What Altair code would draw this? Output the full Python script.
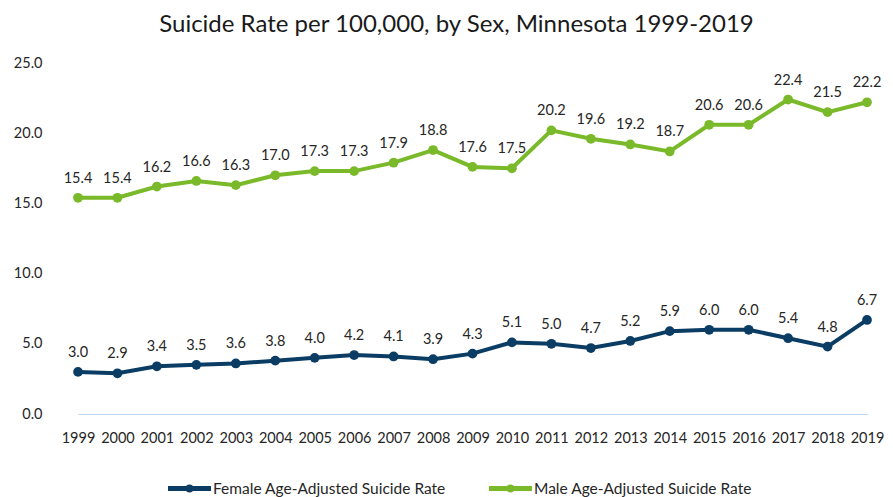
import altair as alt
import pandas as pd

years = [str(y) for y in range(1999, 2020)]
female = [3.0, 2.9, 3.4, 3.5, 3.6, 3.8, 4.0, 4.2, 4.1, 3.9, 4.3, 5.1, 5.0, 4.7, 5.2, 5.9, 6.0, 6.0, 5.4, 4.8, 6.7]
male = [15.4, 15.4, 16.2, 16.6, 16.3, 17.0, 17.3, 17.3, 17.9, 18.8, 17.6, 17.5, 20.2, 19.6, 19.2, 18.7, 20.6, 20.6, 22.4, 21.5, 22.2]
series = ["Female Age-Adjusted Suicide Rate", "Male Age-Adjusted Suicide Rate"]
colors = ["#0b3c64", "#7ab929"]

rows = []
for y, v in zip(years, female):
    rows.append({"Year": y, "Rate": v, "Series": series[0]})
for y, v in zip(years, male):
    rows.append({"Year": y, "Rate": v, "Series": series[1]})
df = pd.DataFrame(rows)

FONT = "Lato"
W, H = 825, 351

x = alt.X("Year:N", sort=years, title=None,
          scale=alt.Scale(type="point", range=[20, 809], padding=0),
          axis=alt.Axis(labelAngle=0, ticks=False, domainColor="#bdd7ee", domainWidth=1.2,
                        labelFontSize=14.5, labelColor="#262626", labelPadding=17, labelFont=FONT))
y = alt.Y("Rate:Q", title=None,
          scale=alt.Scale(domain=[0, 25], nice=False),
          axis=alt.Axis(values=[0, 5, 10, 15, 20, 25], format=".1f", grid=False, domain=False,
                        ticks=False, labelFontSize=14.5, labelColor="#262626", labelPadding=16,
                        labelFont=FONT))
color = alt.Color("Series:N", scale=alt.Scale(domain=series, range=colors),
                  legend=alt.Legend(title=None, orient="none", legendX=110, legendY=404,
                                    direction="horizontal", labelFontSize=15.5, labelFont=FONT,
                                    labelColor="#262626", columnPadding=38, labelOffset=2,
                                    labelLimit=500,
                                    symbolType="M-1,-0.05 L1,-0.05 L1,0.05 L-1,0.05 Z M-0.12,0 A0.12,0.12 0 1,1 0.12,0 A0.12,0.12 0 1,1 -0.12,0 Z M-0.05,0 A0.05,0.05 0 1,1 0.05,0 A0.05,0.05 0 1,1 -0.05,0 Z",
                                    symbolSize=1600, symbolStrokeWidth=3))

base = alt.Chart(df)
lines = base.mark_line(strokeWidth=4).encode(x=x, y=y, color=color)
points = base.mark_circle(size=95, opacity=1).encode(x=x, y=y, color=alt.Color("Series:N", scale=alt.Scale(domain=series, range=colors), legend=None))
labels = base.mark_text(dy=-19, fontSize=14.5, font=FONT, color="#262626").encode(
    x=x, y=y, text=alt.Text("Rate:Q", format=".1f"))

chart = (lines + points + labels).properties(
    width=W, height=H,
    background="white",
    title=alt.TitleParams("Suicide Rate per 100,000, by Sex, Minnesota 1999-2019",
                          fontSize=24, font=FONT, fontWeight="normal", color="#1a1a1a",
                          anchor="middle", offset=18, dx=-14),
    autosize=alt.AutoSizeParams(type="none"),
    padding={"left": 50, "top": 55, "right": 2, "bottom": 83},
).configure_view(stroke=None)

chart.save("out.html", embed_options={"renderer": "svg", "actions": False})
